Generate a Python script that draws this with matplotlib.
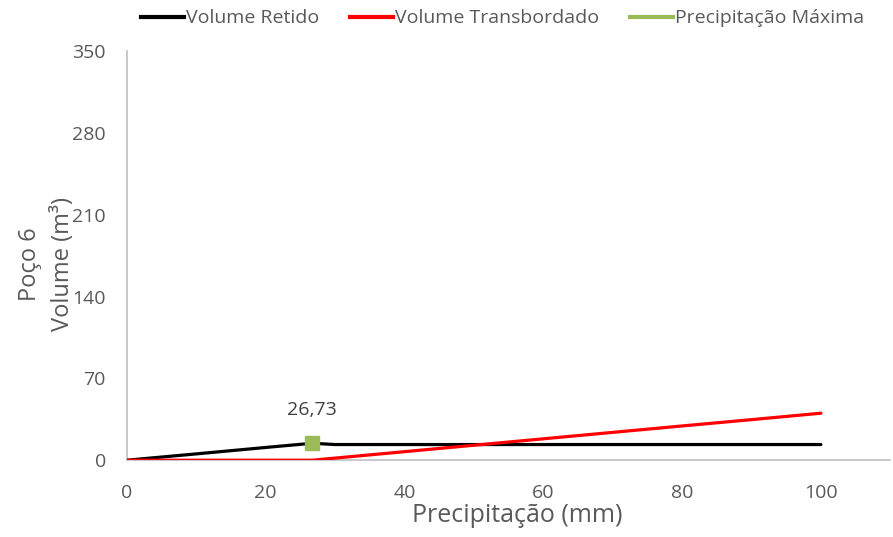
import matplotlib
matplotlib.use("Agg")
import matplotlib.pyplot as plt
from matplotlib.lines import Line2D

plt.rcParams["font.family"] = ["Open Sans", "DejaVu Sans"]

# data
precip = [0, 10, 20, 26.73, 30, 40, 50, 60, 70, 80, 90, 100]
vol_retido = [0, 5.4, 10.9, 14.5, 13.4, 13.4, 13.4, 13.4, 13.4, 13.4, 13.4, 13.4]
vol_transb = [0, 0, 0, 0, 1.8, 7.3, 12.8, 18.3, 23.8, 29.3, 34.7, 40.2]
precip_max = [26.73]
vol_max = [14.5]
max_label = "26,73"

y_ticks = [0, 70, 140, 210, 280, 350]
x_ticks = [0, 20, 40, 60, 80, 100]

gray_txt = "#595959"
green = "#9BBB59"

fig = plt.figure(figsize=(8.93, 5.37), dpi=100)
ax = fig.add_axes([0.142, 0.143, 0.855, 0.762])

ax.plot(precip, vol_retido, color="black", lw=2.3, solid_capstyle="round", zorder=3)
ax.plot(precip, vol_transb, color="#FF0000", lw=2.3, solid_capstyle="round", zorder=3)
ax.plot(precip_max, vol_max, ls="none", marker="s", ms=10, color=green, zorder=4)
ax.annotate(max_label, (precip_max[0], vol_max[0]), xytext=(0, 24),
            textcoords="offset points", ha="center", va="center",
            fontsize=14, color="#404040")

ax.set_xlim(0, 110)
ax.set_ylim(0, 350)
ax.set_xticks(x_ticks)
ax.set_yticks(y_ticks)
ax.tick_params(length=0, labelsize=14, labelcolor=gray_txt)
ax.tick_params(axis="y", pad=15)
ax.tick_params(axis="x", pad=17)
for s in ["top", "right"]:
    ax.spines[s].set_visible(False)
for s in ["left", "bottom"]:
    ax.spines[s].set_color("#BFBFBF")
    ax.spines[s].set_linewidth(1.2)

ax.set_xlabel("Precipitação (mm)", fontsize=18, color=gray_txt, labelpad=1)
ax.xaxis.label.set_x(0.512)
fig.text(0.052, 0.508, "Poço 6\nVolume (m³)", rotation=90, ha="center",
         va="center", fontsize=17, color=gray_txt, linespacing=1.5)

handles = [
    Line2D([], [], color="black", lw=3),
    Line2D([], [], color="#FF0000", lw=3),
    Line2D([], [], color=green, lw=3),
]
fig.legend(handles, ["Volume Retido", "Volume Transbordado", "Precipitação Máxima"],
           loc="upper center", bbox_to_anchor=(0.563, 1.015), ncol=3, frameon=False,
           fontsize=14, labelcolor=gray_txt, handlelength=2.2, handletextpad=0.1,
           columnspacing=1.6)

fig.savefig("out.png", dpi=100)
